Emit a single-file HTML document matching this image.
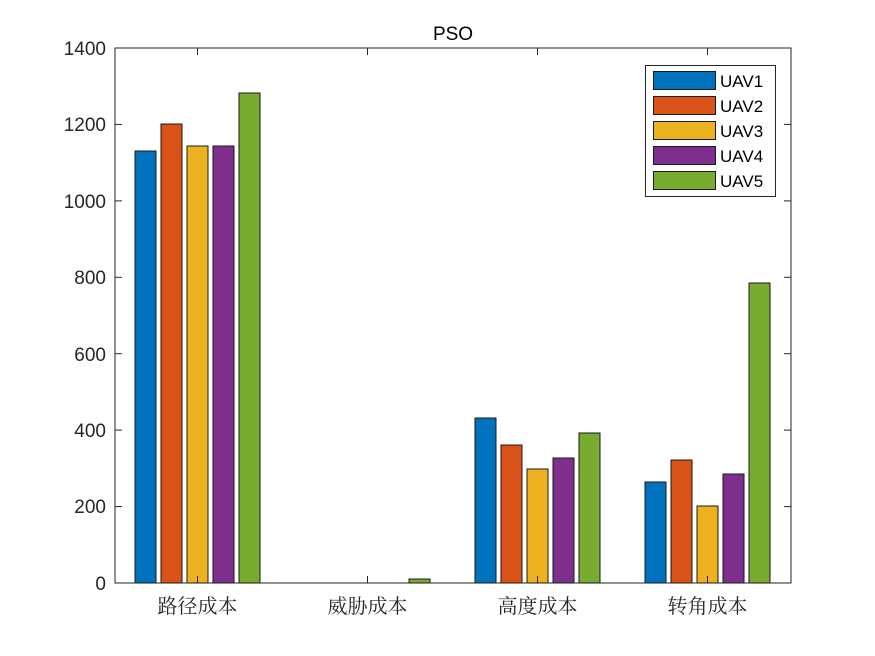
<!DOCTYPE html>
<html><head><meta charset="utf-8"><style>body{margin:0;background:#fff}svg{display:block}</style></head><body>
<svg width="875" height="656" xmlns="http://www.w3.org/2000/svg" font-family="Liberation Sans, Noto Sans CJK SC, sans-serif">
<rect width="875" height="656" fill="#fff"/>
<rect x="115" y="48" width="676" height="535" fill="#fff" stroke="#262626" stroke-width="1"/>
<g stroke="#1a1a1a" stroke-width="1">
<rect x="135" y="151" width="21" height="432" fill="#0072BD"/>
<rect x="161" y="124" width="21" height="459" fill="#D95319"/>
<rect x="187" y="146" width="21" height="437" fill="#EDB120"/>
<rect x="213" y="146" width="21" height="437" fill="#7E2F8E"/>
<rect x="239" y="93" width="21" height="490" fill="#77AC30"/>
<rect x="409" y="579" width="21" height="4" fill="#77AC30"/>
<rect x="475" y="418" width="21" height="165" fill="#0072BD"/>
<rect x="501" y="445" width="21" height="138" fill="#D95319"/>
<rect x="527" y="469" width="21" height="114" fill="#EDB120"/>
<rect x="553" y="458" width="21" height="125" fill="#7E2F8E"/>
<rect x="579" y="433" width="21" height="150" fill="#77AC30"/>
<rect x="645" y="482" width="21" height="101" fill="#0072BD"/>
<rect x="671" y="460" width="21" height="123" fill="#D95319"/>
<rect x="697" y="506" width="21" height="77" fill="#EDB120"/>
<rect x="723" y="474" width="21" height="109" fill="#7E2F8E"/>
<rect x="749" y="283" width="21" height="300" fill="#77AC30"/>
</g>
<g stroke="#262626" stroke-width="1">
<line x1="115" y1="48" x2="122" y2="48"/><line x1="115" y1="124.4" x2="122" y2="124.4"/><line x1="115" y1="200.9" x2="122" y2="200.9"/><line x1="115" y1="277.3" x2="122" y2="277.3"/><line x1="115" y1="353.7" x2="122" y2="353.7"/><line x1="115" y1="430.1" x2="122" y2="430.1"/><line x1="115" y1="506.6" x2="122" y2="506.6"/>
<line x1="784" y1="124.4" x2="791" y2="124.4"/><line x1="784" y1="200.9" x2="791" y2="200.9"/><line x1="784" y1="277.3" x2="791" y2="277.3"/><line x1="784" y1="353.7" x2="791" y2="353.7"/><line x1="784" y1="430.1" x2="791" y2="430.1"/><line x1="784" y1="506.6" x2="791" y2="506.6"/>
<line x1="197.5" y1="583" x2="197.5" y2="576"/><line x1="367.5" y1="583" x2="367.5" y2="576"/><line x1="537.5" y1="583" x2="537.5" y2="576"/><line x1="707.5" y1="583" x2="707.5" y2="576"/>
<line x1="197.5" y1="48" x2="197.5" y2="55"/><line x1="367.5" y1="48" x2="367.5" y2="55"/><line x1="537.5" y1="48" x2="537.5" y2="55"/><line x1="707.5" y1="48" x2="707.5" y2="55"/>
</g>
<g font-size="19" fill="#262626" text-anchor="end">
<text x="106" y="55">1400</text><text x="106" y="131">1200</text><text x="106" y="208">1000</text><text x="106" y="284">800</text><text x="106" y="361">600</text><text x="106" y="437">400</text><text x="106" y="513">200</text><text x="106" y="590">0</text>
</g>
<g font-size="20" fill="#262626" text-anchor="middle" font-family="Noto Serif CJK SC, Noto Sans CJK SC, serif">
<text x="197.5" y="613">路径成本</text><text x="367.5" y="613">威胁成本</text><text x="537.5" y="613">高度成本</text><text x="707.5" y="613">转角成本</text>
</g>
<text x="453" y="40" font-size="19" text-anchor="middle" fill="#000">PSO</text>
<rect x="645.5" y="65.5" width="130" height="131" fill="#fff" stroke="#262626"/>
<g stroke="#1a1a1a">
<rect x="653.5" y="71.5" width="62" height="18" fill="#0072BD"/>
<rect x="653.5" y="96.5" width="62" height="18" fill="#D95319"/>
<rect x="653.5" y="121.5" width="62" height="18" fill="#EDB120"/>
<rect x="653.5" y="146.5" width="62" height="18" fill="#7E2F8E"/>
<rect x="653.5" y="171.5" width="62" height="18" fill="#77AC30"/>
</g>
<g font-size="17" fill="#000">
<text x="720" y="87">UAV1</text><text x="720" y="112">UAV2</text><text x="720" y="137">UAV3</text><text x="720" y="162">UAV4</text><text x="720" y="187">UAV5</text>
</g>
</svg>
</body></html>
